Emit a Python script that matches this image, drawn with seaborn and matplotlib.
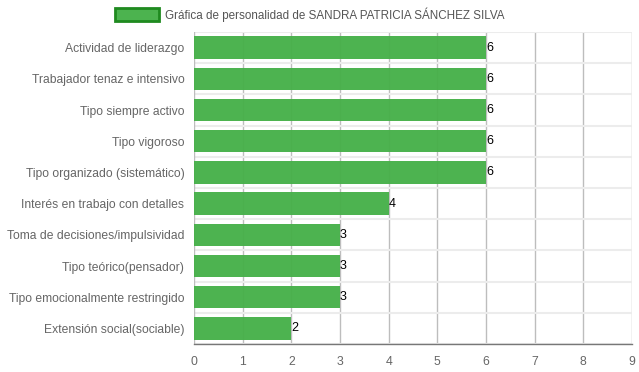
import matplotlib
matplotlib.use("Agg")
import matplotlib.pyplot as plt
import seaborn as sns
import pandas as pd
from matplotlib.patches import Patch

categories = [
    "Actividad de liderazgo",
    "Trabajador tenaz e intensivo",
    "Tipo siempre activo",
    "Tipo vigoroso",
    "Tipo organizado (sistemático)",
    "Interés en trabajo con detalles",
    "Toma de decisiones/impulsividad",
    "Tipo teórico(pensador)",
    "Tipo emocionalmente restringido",
    "Extensión social(sociable)",
]
values = [6, 6, 6, 6, 6, 4, 3, 3, 3, 2]
legend_label = "Gráfica de personalidad de SANDRA PATRICIA SÁNCHEZ SILVA"

df = pd.DataFrame({"categoria": categories, "valor": values})

sns.set_style("white")
plt.rcParams["font.family"] = ["Liberation Sans", "DejaVu Sans"]

fig = plt.figure(figsize=(6.39, 3.72), dpi=100)
ax = fig.add_axes([194 / 639, 1 - 344 / 372, 438 / 639, 312 / 372])

sns.barplot(data=df, y="categoria", x="valor", orient="h", ax=ax,
            color="#46b049", width=0.72, saturation=1, zorder=3, alpha=0.96,
            linewidth=0)

ax.set_xlim(0, 9)
ax.set_xticks(range(10))
ax.set_ylim(len(categories) - 0.5, -0.5)
ax.set_xlabel("")
ax.set_ylabel("")

# grid lines
for x in range(1, 10):
    ax.axvline(x, color="#bdbdbd", lw=1, zorder=1)
for i in range(len(categories) + 1):
    ax.axhline(i - 0.5, color="#ececec", lw=1.5, zorder=1)

for s in ["top", "right", "left"]:
    ax.spines[s].set_visible(False)
ax.spines["bottom"].set_color("#777777")
ax.spines["bottom"].set_linewidth(1)
ax.tick_params(axis="x", colors="#bdbdbd", length=5, labelcolor="#666666", labelsize=8.8)
ax.tick_params(axis="y", length=0, labelcolor="#666666", labelsize=8.7, pad=7)
ax.axvline(0, color="#bdbdbd", lw=1, zorder=1)

for i, v in enumerate(values):
    ax.text(v, i, str(v), ha="left", va="center", fontsize=9, color="black", zorder=4)

handle = Patch(facecolor="#4cb34f", edgecolor="#1f8a1f", linewidth=2)
fig.legend([handle], [legend_label], loc="upper center", bbox_to_anchor=(0.485, 1.009),
           frameon=False, fontsize=8.4, handlelength=3.8, handleheight=1.3,
           labelcolor="#555555", handletextpad=0.5)

fig.savefig("out.png", dpi=100)
